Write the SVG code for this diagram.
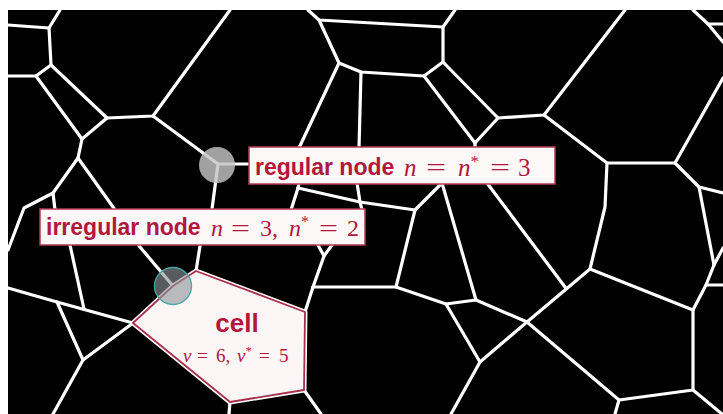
<svg xmlns="http://www.w3.org/2000/svg" width="723" height="414" viewBox="0 0 723 414">
  <style>
    .edge { fill: none; stroke: #ffffff; stroke-width: 3.2; stroke-linecap: round; stroke-linejoin: round; }
    .box { fill: #fdf8f8; stroke: #b23a55; stroke-width: 1.5; }
    .lbl { font-family: "Liberation Sans", Arial, sans-serif; font-weight: bold; fill: #b2173d; }
    .math { font-family: "Liberation Serif", "Times New Roman", serif; fill: #b2173d; }
    .it { font-style: italic; }
  </style>

  <!-- canvas -->
  <rect x="0" y="0" width="723" height="414" fill="#ffffff"/>
  <rect x="8" y="10" width="715" height="404" fill="#000000"/>

  <!-- cell network -->
  <g id="connectors" class="edge">
    <!-- upper left -->
    <polyline points="8,25 49,28 60,10"/>
    <polyline points="49,28 51,65"/>
    <polyline points="8,76 36,76 51,65 107,118"/>
    <polyline points="36,76 82,139 107,118 153,116 230,10"/>
    <polyline points="153,116 218,164 250,164"/>
    <polyline points="82,139 78,158 53,193 24,208 8,250"/>
    <polyline points="53,193 55,210"/>
    <polyline points="78,158 113,207 140,247 173,286"/>
    <polyline points="218,164 212,209 200,246 196,271"/>
    <!-- upper middle -->
    <polyline points="308,10 319,20 443,27 455,10"/>
    <polyline points="319,20 339,63 361,72 424,76 443,62 443,27"/>
    <polyline points="361,72 359,148"/>
    <polyline points="339,63 299,148"/>
    <polyline points="443,62 498,118 544,115 625,10"/>
    <polyline points="424,76 475,143 475,148"/>
    <polyline points="498,118 475,143"/>
    <!-- upper right -->
    <polyline points="544,115 607,163 675,163 723,78"/>
    <polyline points="675,163 699,187 723,193"/>
    <polyline points="699,187 714,265 706,285 693,310"/>
    <polyline points="714,265 723,248"/>
    <polyline points="706,285 723,285"/>
    <polyline points="693,10 708,24 723,42"/>
    <polyline points="708,24 723,24"/>
    <polyline points="607,163 605,207 590,269"/>
    <!-- between the labels -->
    <polyline points="299,183 298,188 291,210"/>
    <polyline points="298,188 360,202 415,210 442,183"/>
    <polyline points="357,183 360,202 362,210"/>
    <polyline points="415,210 396,287"/>
    <polyline points="442,183 476,300"/>
    <polyline points="487,183 565,287"/>
    <!-- lower right -->
    <polyline points="590,269 527,322 480,362 451,414"/>
    <polyline points="590,269 693,310 693,390 619,400 615,414"/>
    <polyline points="693,390 722,414"/>
    <polyline points="527,322 619,400"/>
    <polyline points="313,287 396,287 446,304 476,300 527,322"/>
    <polyline points="446,304 480,362"/>
    <!-- around the cell -->
    <polyline points="313,287 305,312"/>
    <polyline points="313,287 324,256 318,245"/>
    <polyline points="324,256 332,245"/>
    <polyline points="304,390 321,414"/>
    <polyline points="230,402 229,414"/>
    <!-- lower left -->
    <polyline points="70,245 84,309"/>
    <polyline points="8,288 57,302 133,323"/>
    <polyline points="57,302 83,360 133,323"/>
    <polyline points="83,360 53,414"/>
  </g>

  <!-- highlighted cell -->
  <g id="cell">
    <polygon points="133,323 173,286 196,271 305,312 304,390 230,402" fill="none" stroke="#ffffff" stroke-width="5" stroke-linejoin="round"/>
    <polygon points="133,323 173,286 196,271 305,312 304,390 230,402" fill="#fcf6f7" stroke="#a8304c" stroke-width="1.8" stroke-linejoin="round"/>
    <text x="237" y="332" class="lbl" font-size="26" text-anchor="middle">cell</text>
    <text y="362" class="math" font-size="19">
      <tspan x="183" class="it">v</tspan><tspan x="197">=</tspan><tspan x="216">6,</tspan><tspan x="237" class="it">v</tspan><tspan font-size="13" dy="-7">*</tspan><tspan x="259" dy="7">=</tspan><tspan x="279">5</tspan>
    </text>
  </g>

  <!-- regular node -->
  <g id="regular-node">
    <circle cx="217" cy="165" r="18" fill="#c4c4c4" fill-opacity="0.82"/>
  </g>

  <!-- irregular node -->
  <g id="irregular-node">
    <circle cx="173" cy="286" r="18.5" fill="#8f949a" fill-opacity="0.62" stroke="#46a6a6" stroke-width="1.3"/>
  </g>

  <!-- labels -->
  <g id="regular-label">
    <rect x="249" y="147" width="306" height="37" class="box"/>
    <text x="255" y="175" class="lbl" font-size="23">regular node</text>
    <text y="176" class="math" font-size="25">
      <tspan x="404" class="it">n</tspan><tspan x="458" class="it">n</tspan><tspan font-size="17" dy="-9">*</tspan><tspan x="518" dy="9">3</tspan>
    </text>
    <text x="426" y="176" class="math" font-size="25" textLength="20" lengthAdjust="spacingAndGlyphs">=</text>
    <text x="490" y="176" class="math" font-size="25" textLength="20" lengthAdjust="spacingAndGlyphs">=</text>
  </g>

  <g id="irregular-label">
    <rect x="40" y="209" width="325" height="36" class="box"/>
    <text x="46" y="235" class="lbl" font-size="23">irregular node</text>
    <text y="236" class="math" font-size="24">
      <tspan x="211" class="it">n</tspan><tspan x="260">3,</tspan><tspan x="289" class="it">n</tspan><tspan font-size="16" dy="-9">*</tspan><tspan x="347" dy="9">2</tspan>
    </text>
    <text x="231" y="236" class="math" font-size="24" textLength="19" lengthAdjust="spacingAndGlyphs">=</text>
    <text x="319" y="236" class="math" font-size="24" textLength="19" lengthAdjust="spacingAndGlyphs">=</text>
  </g>
</svg>
